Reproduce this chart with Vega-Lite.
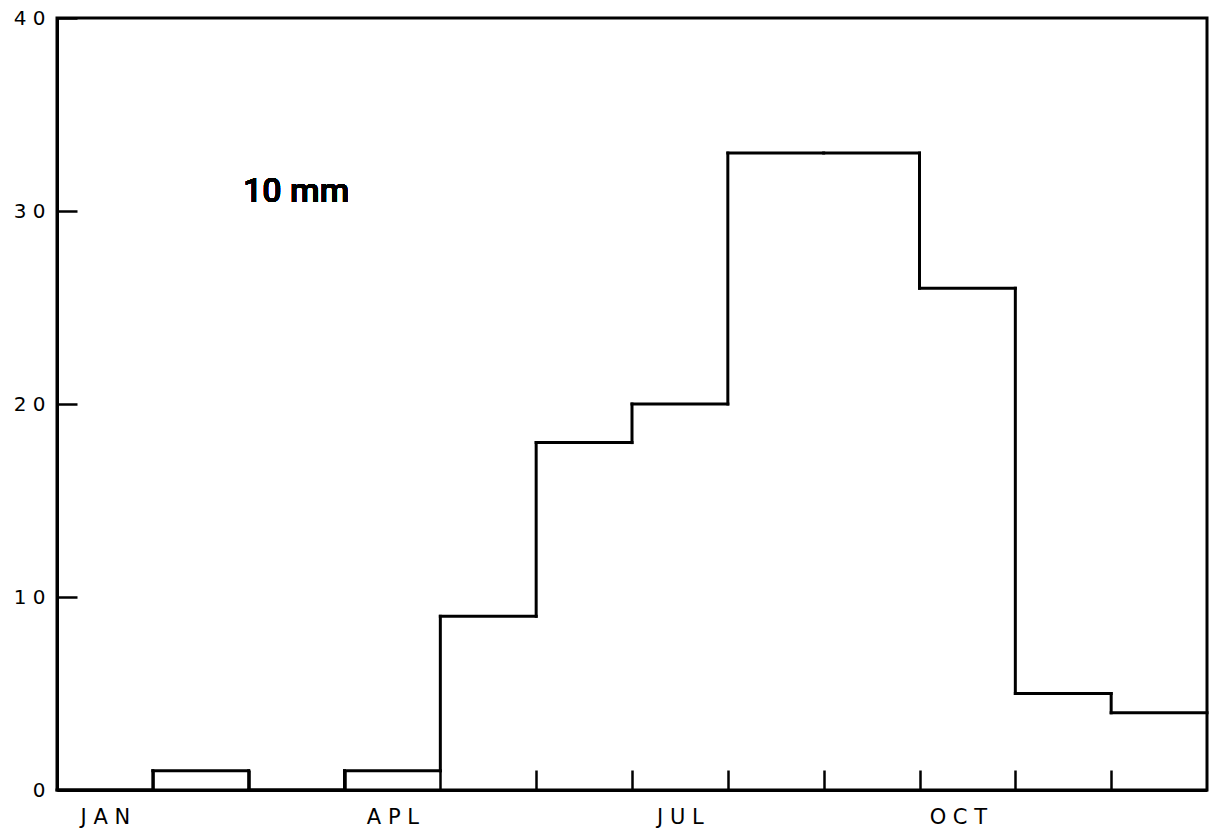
{
  "$schema": "https://vega.github.io/schema/vega-lite/v6.json",
  "width": 1150,
  "height": 772,
  "autosize": {"type": "none"},
  "padding": {"left": 57, "top": 18, "right": 2, "bottom": 47},
  "background": "white",
  "config": {
    "view": {"stroke": "black", "strokeWidth": 3},
    "axis": {
      "domainColor": "black",
      "domainWidth": 3,
      "tickColor": "black",
      "tickWidth": 2.5,
      "labelColor": "black",
      "labelFont": "DejaVu Sans",
      "grid": false,
      "title": null
    }
  },
  "datasets": {
    "months": [
      {"month": "JAN", "start": 0, "end": 1, "count": 0},
      {"month": "FEB", "start": 1, "end": 2, "count": 1},
      {"month": "MAR", "start": 2, "end": 3, "count": 0},
      {"month": "APR", "start": 3, "end": 4, "count": 1},
      {"month": "MAY", "start": 4, "end": 5, "count": 9},
      {"month": "JUN", "start": 5, "end": 6, "count": 18},
      {"month": "JUL", "start": 6, "end": 7, "count": 20},
      {"month": "AUG", "start": 7, "end": 8, "count": 33},
      {"month": "SEP", "start": 8, "end": 9, "count": 33},
      {"month": "OCT", "start": 9, "end": 10, "count": 26},
      {"month": "NOV", "start": 10, "end": 11, "count": 5},
      {"month": "DEC", "start": 11, "end": 12, "count": 4}
    ]
  },
  "data": {"name": "months"},
  "layer": [
    {
      "mark": {"type": "rule", "color": "black", "strokeWidth": 3, "strokeCap": "square"},
      "encoding": {
        "x": {
          "field": "start",
          "type": "quantitative",
          "scale": {"domain": [0, 12], "nice": false, "zero": false},
          "axis": {
            "values": [0.5, 1, 2, 3, 3.5, 4, 5, 6, 6.5, 7, 8, 9, 9.4, 10, 11],
            "labelExpr": "datum.value == 0.5 ? 'J A N' : datum.value == 3.5 ? 'A P L' : datum.value == 6.5 ? 'J U L' : datum.value == 9.4 ? 'O C T' : ''",
            "tickOpacity": {"condition": {"test": "datum.value % 1 === 0", "value": 1}, "value": 0},
            "tickSize": -20,
            "labelOverlap": false,
            "labelFlush": false,
            "labelFontSize": 21,
            "labelFontWeight": 500,
            "labelPadding": 36
          }
        },
        "x2": {"field": "end"},
        "y": {
          "field": "count",
          "type": "quantitative",
          "scale": {"domain": [0, 40], "nice": false},
          "axis": {
            "values": [0, 10, 20, 30, 40],
            "labelExpr": "datum.value == 0 ? '0' : datum.value == 10 ? '1 0' : datum.value == 20 ? '2 0' : datum.value == 30 ? '3 0' : '4 0'",
            "tickSize": -20,
            "labelFontSize": 20,
            "labelFontWeight": 500,
            "labelPadding": 32
          }
        }
      }
    },
    {
      "transform": [
        {"window": [{"op": "lag", "field": "count", "as": "prev"}], "sort": [{"field": "start"}]},
        {"filter": "datum.prev != null && datum.prev != datum.count"}
      ],
      "mark": {"type": "rule", "color": "black", "strokeWidth": 3, "strokeCap": "square"},
      "encoding": {
        "x": {"field": "start", "type": "quantitative"},
        "y": {"field": "prev", "type": "quantitative"},
        "y2": {"field": "count"}
      }
    },
    {
      "mark": {
        "type": "text",
        "text": "10 mm",
        "font": "Roboto",
        "fontWeight": 500,
        "fontSize": 34,
        "align": "left",
        "baseline": "middle",
        "color": "black"
      },
      "encoding": {
        "x": {"datum": 1.94, "type": "quantitative"},
        "y": {"datum": 31, "type": "quantitative"}
      }
    }
  ]
}
